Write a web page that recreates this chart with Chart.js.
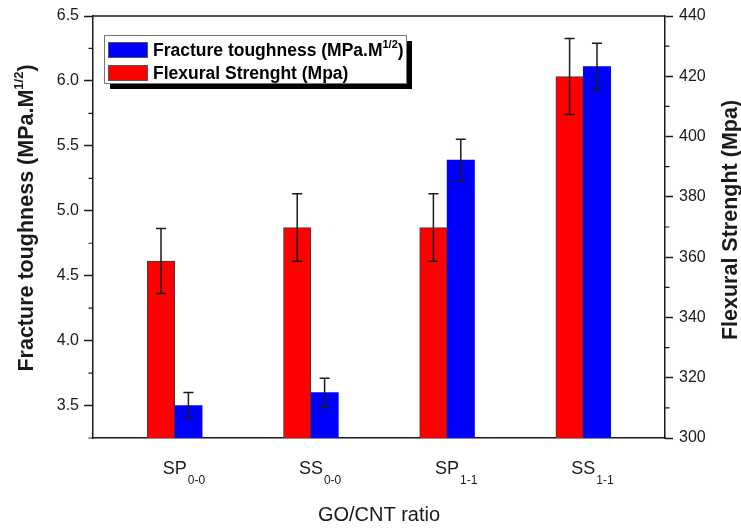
<!DOCTYPE html>
<html>
<head>
<meta charset="utf-8">
<script src="https://cdn.jsdelivr.net/npm/chart.js@4/dist/chart.umd.min.js"></script>
<style>
  html, body { margin: 0; padding: 0; background: #fff; }
  #wrap { width: 741px; height: 530px; position: relative; }
</style>
</head>
<body>
<div id="wrap"><canvas id="c" width="741" height="530"></canvas></div>
<script>
// Sample groups (base name + subscript)
const categories = ['SP', 'SS', 'SP', 'SS'];
const categorySubs = ['0-0', '0-0', '1-1', '1-1'];

// Fracture toughness (MPa.M^1/2), left axis
const toughness = [3.50, 3.60, 5.39, 6.11];
const toughnessErr = [0.10, 0.11, 0.16, 0.18];

// Flexural strength (MPa), right axis
const strength = [358.7, 369.8, 369.8, 419.9];
const strengthErr = [10.8, 11.2, 11.2, 12.6];

// Axis ticks
const leftTicks = [3.5, 4.0, 4.5, 5.0, 5.5, 6.0, 6.5];
const rightTicks = [300, 320, 340, 360, 380, 400, 420, 440];

const FONT = "'Liberation Sans', Arial, Helvetica, sans-serif";
const INK = '#1a1a1a';

function minorOf(ticks) {
  const out = [];
  for (let i = 0; i < ticks.length - 1; i++) out.push((ticks[i] + ticks[i + 1]) / 2);
  out.unshift(ticks[0] - (ticks[1] - ticks[0]) / 2);
  return out;
}

// Draws text made of [text, isSuper] parts starting at x (baseline y)
function drawParts(ctx, parts, x, y, size, bold) {
  let cx = x;
  parts.forEach(([t, sup]) => {
    const s = sup ? Math.round(size * 0.6) : size;
    ctx.font = (bold ? 'bold ' : '') + s + 'px ' + FONT;
    ctx.fillText(t, cx, sup ? y - size * 0.45 : y);
    cx += ctx.measureText(t).width;
  });
  return cx - x;
}
function partsWidth(ctx, parts, size, bold) {
  let w = 0;
  parts.forEach(([t, sup]) => {
    const s = sup ? Math.round(size * 0.6) : size;
    ctx.font = (bold ? 'bold ' : '') + s + 'px ' + FONT;
    w += ctx.measureText(t).width;
  });
  return w;
}

const toughnessTitle = [['Fracture toughness (MPa.M', false], ['1/2', true], [')', false]];
const strengthTitle = [['Flexural Strenght (Mpa)', false]];
const xTitle = 'GO/CNT ratio';

const errorBars = {
  id: 'errorBars',
  afterDatasetsDraw(chart) {
    const ctx = chart.ctx;
    ctx.save();
    ctx.strokeStyle = INK;
    ctx.lineWidth = 1.5;
    chart.data.datasets.forEach((ds, di) => {
      const meta = chart.getDatasetMeta(di);
      const ys = chart.scales[ds.yAxisID];
      meta.data.forEach((bar, i) => {
        const v = ds.data[i].y, e = ds.errors[i];
        const yt = ys.getPixelForValue(v + e);
        const yb = ys.getPixelForValue(v - e);
        const x = bar.x;
        ctx.beginPath();
        ctx.moveTo(x, yt); ctx.lineTo(x, yb);
        ctx.moveTo(x - 5, yt); ctx.lineTo(x + 5, yt);
        ctx.moveTo(x - 5, yb); ctx.lineTo(x + 5, yb);
        ctx.stroke();
      });
    });
    ctx.restore();
  }
};

const decor = {
  id: 'decor',
  afterDraw(chart) {
    const ctx = chart.ctx;
    const a = chart.chartArea;
    const yl = chart.scales.y, yr = chart.scales.y1, xs = chart.scales.x;
    ctx.save();
    ctx.strokeStyle = INK;
    ctx.fillStyle = INK;
    ctx.lineWidth = 1.5;

    // top frame line
    ctx.beginPath();
    ctx.moveTo(a.left, a.top); ctx.lineTo(a.right, a.top);
    ctx.stroke();

    // minor ticks
    ctx.lineWidth = 1.2;
    ctx.beginPath();
    minorOf(leftTicks).forEach(v => {
      const y = yl.getPixelForValue(v);
      ctx.moveTo(a.left - 4.5, y); ctx.lineTo(a.left, y);
    });
    minorOf(rightTicks).slice(1).forEach(v => {
      const y = yr.getPixelForValue(v);
      ctx.moveTo(a.right, y); ctx.lineTo(a.right + 4.5, y);
    });
    ctx.stroke();

    // category labels with subscripts
    ctx.textBaseline = 'alphabetic';
    ctx.textAlign = 'left';
    categories.forEach((c, i) => {
      const x = xs.getPixelForValue(i);
      ctx.font = '18px ' + FONT;
      const w = ctx.measureText(c).width;
      ctx.fillText(c, x - w / 2, 474);
      ctx.font = '12px ' + FONT;
      ctx.fillText(categorySubs[i], x + w / 2 + 1, 484);
    });

    // x title
    ctx.font = '20px ' + FONT;
    ctx.textAlign = 'center';
    ctx.fillText(xTitle, (a.left + a.right) / 2, 521);
    ctx.textAlign = 'left';

    // left title (rotated)
    ctx.save();
    ctx.translate(33, 218);
    ctx.rotate(-Math.PI / 2);
    let w = partsWidth(ctx, toughnessTitle, 21.5, true);
    drawParts(ctx, toughnessTitle, -w / 2, 0, 21.5, true);
    ctx.restore();

    // right title (rotated)
    ctx.save();
    ctx.translate(737, 220);
    ctx.rotate(-Math.PI / 2);
    w = partsWidth(ctx, strengthTitle, 21.5, true);
    drawParts(ctx, strengthTitle, -w / 2, 0, 21.5, true);
    ctx.restore();

    // legend with drop shadow
    const lx = 104, ly = 35, lw = 302, lh = 48;
    ctx.fillStyle = '#000';
    ctx.fillRect(lx + 6, ly + 6, lw, lh);
    ctx.fillStyle = '#fff';
    ctx.fillRect(lx, ly, lw, lh);
    ctx.strokeStyle = '#777';
    ctx.lineWidth = 1;
    ctx.strokeRect(lx + 0.5, ly + 0.5, lw, lh);

    const entries = [
      { color: '#0000ff', parts: [['Fracture toughness (MPa.M', false], ['1/2', true], [')', false]], y: 50 },
      { color: '#ff0000', parts: [['Flexural Strenght (Mpa)', false]], y: 73 }
    ];
    entries.forEach(en => {
      ctx.fillStyle = en.color;
      ctx.fillRect(108, en.y - 8, 40, 16);
      ctx.strokeStyle = '#555';
      ctx.strokeRect(108.5, en.y - 7.5, 39, 15);
      ctx.fillStyle = '#000';
      drawParts(ctx, en.parts, 153, en.y + 6, 17.5, true);
    });

    ctx.restore();
  }
};

new Chart(document.getElementById('c'), {
  type: 'bar',
  data: {
    datasets: [
      {
        label: 'Flexural Strenght (Mpa)',
        data: strength.map((v, i) => ({ x: i, y: v })),
        errors: strengthErr,
        yAxisID: 'y1',
        backgroundColor: '#ff0000',
        borderColor: '#3c3c3c',
        borderWidth: 1,
        barThickness: 27.4
      },
      {
        label: 'Fracture toughness (MPa.M1/2)',
        data: toughness.map((v, i) => ({ x: i, y: v })),
        errors: toughnessErr,
        yAxisID: 'y',
        backgroundColor: '#0000ff',
        borderWidth: 0,
        barThickness: 27.4
      }
    ]
  },
  options: {
    responsive: false,
    animation: false,
    layout: { padding: { top: 16, left: 0, right: 0, bottom: 0 } },
    plugins: { legend: { display: false }, tooltip: { enabled: false } },
    scales: {
      x: {
        type: 'linear',
        min: -0.6, max: 3.6,
        offset: false,
        grid: { display: false },
        border: { display: true, color: INK, width: 1.5 },
        ticks: { display: false },
        afterFit: s => { s.height = 92; }
      },
      y: {
        position: 'left',
        min: 3.25, max: 6.5,
        afterBuildTicks: s => { s.ticks = leftTicks.map(v => ({ value: v })); },
        ticks: {
          font: { family: FONT, size: 16 }, color: INK, padding: 5,
          callback: v => Number(v).toFixed(1)
        },
        grid: { display: true, drawOnChartArea: false, tickLength: 9, color: INK, tickColor: INK, tickWidth: 1.5 },
        border: { display: true, color: INK, width: 1.5 },
        afterFit: s => { s.width = 93; }
      },
      y1: {
        position: 'right',
        min: 300, max: 440,
        afterBuildTicks: s => { s.ticks = rightTicks.map(v => ({ value: v })); },
        ticks: {
          font: { family: FONT, size: 16 }, color: INK, padding: 6,
          callback: v => String(v)
        },
        grid: { display: true, drawOnChartArea: false, tickLength: 8, color: INK, tickColor: INK, tickWidth: 1.5 },
        border: { display: true, color: INK, width: 1.5 },
        afterFit: s => { s.width = 76; }
      }
    }
  },
  plugins: [errorBars, decor]
});
</script>
</body>
</html>
